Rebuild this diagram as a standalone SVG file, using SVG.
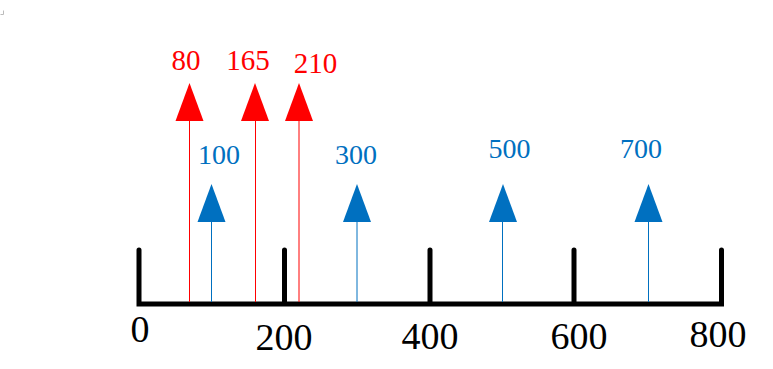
<svg xmlns="http://www.w3.org/2000/svg" width="773" height="369" viewBox="0 0 773 369">
<style>
.axis{stroke:#000;stroke-width:5;stroke-linecap:round;fill:none}
.rl{stroke:#FF0000;stroke-width:1}
.bl{stroke:#0070C0;stroke-width:1}
.rh{fill:#FF0000}
.bh{fill:#0070C0}
text{font-family:"Liberation Serif","Times New Roman",serif;text-anchor:middle}
.rt{fill:#FF0000;font-size:29px}
.bt{fill:#0070C0;font-size:28px}
.kt{fill:#000;font-size:38px}
</style>
<path d="M0.5 14.5H3.5V10.5" stroke="#bbb" stroke-width="1" fill="none"/>
<g id="axis">
<path class="axis" d="M139 250V304H721.5V250M284.5 250V304M430 250V304M574 250V304"/>
<text class="kt" x="140" y="342">0</text>
<text class="kt" x="284" y="350">200</text>
<text class="kt" x="430" y="349">400</text>
<text class="kt" x="579" y="349">600</text>
<text class="kt" x="718" y="347">800</text>
</g>
<g id="connectors">
<line class="rl" x1="189.5" y1="120" x2="189.5" y2="302"/>
<line class="rl" x1="255.5" y1="120" x2="255.5" y2="302"/>
<line class="rl" x1="299" y1="120" x2="299" y2="302"/>
<line class="bl" x1="211.5" y1="221" x2="211.5" y2="302"/>
<line class="bl" x1="357" y1="221" x2="357" y2="302"/>
<line class="bl" x1="502.5" y1="221" x2="502.5" y2="302"/>
<line class="bl" x1="648.5" y1="221" x2="648.5" y2="302"/>
</g>
<g id="f80"><path class="rh" d="M189.5 83L203.5 121H175.5Z"/><text class="rt" x="186" y="70">80</text></g>
<g id="f165"><path class="rh" d="M255 83L269 121H241Z"/><text class="rt" x="248" y="69.5">165</text></g>
<g id="f210"><path class="rh" d="M299 83L313 121H285Z"/><text class="rt" x="315.5" y="72.5">210</text></g>
<g id="f100"><path class="bh" d="M211.5 184L225.5 222H197.5Z"/><text class="bt" x="219" y="164">100</text></g>
<g id="f300"><path class="bh" d="M357 184L371 222H343Z"/><text class="bt" x="356" y="164">300</text></g>
<g id="f500"><path class="bh" d="M503 184L517 222H489Z"/><text class="bt" x="509.5" y="158">500</text></g>
<g id="f700"><path class="bh" d="M648.5 184L662.5 222H634.5Z"/><text class="bt" x="641" y="158">700</text></g>
</svg>
